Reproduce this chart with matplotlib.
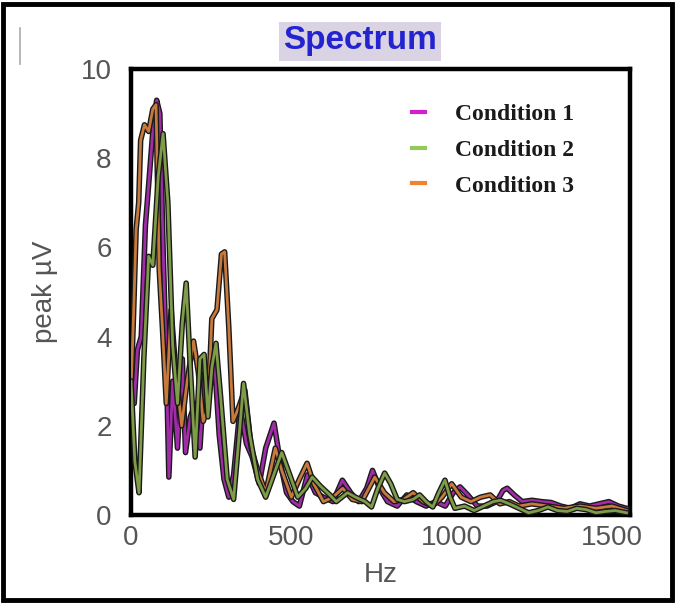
import matplotlib
matplotlib.use("Agg")
import matplotlib.pyplot as plt
import matplotlib.patheffects as pe
from matplotlib.lines import Line2D
from matplotlib.patches import Rectangle

# ---- data ----
hz_c1 = [0, 10, 20, 32, 45, 55, 68, 80, 90, 100, 110, 118, 130, 145, 160, 170, 185, 200, 215, 230,
         245, 260, 275, 290, 305, 320, 340, 360, 378, 400, 420, 446, 465, 485, 505, 525, 550, 575,
         600, 630, 659, 685, 710, 735, 753, 775, 800, 830, 860, 890, 920, 950, 980, 1005, 1026,
         1050, 1080, 1110, 1140, 1160, 1173, 1195, 1220, 1250, 1280, 1310, 1340, 1370, 1400,
         1430, 1460, 1490, 1520, 1545]
val_c1 = [3.6, 2.5, 3.7, 4.0, 6.5, 7.4, 8.6, 9.3, 9.0, 6.0, 3.5, 0.85, 3.0, 1.5, 3.5, 1.4, 2.2, 2.5,
          1.5, 3.2, 2.8, 3.5, 1.8, 0.8, 0.4, 0.9, 2.4, 1.6, 1.3, 0.7, 1.5, 2.06, 1.2, 0.5, 0.3, 0.2,
          0.9, 0.5, 0.4, 0.3, 0.78, 0.5, 0.3, 0.6, 1.0, 0.6, 0.3, 0.2, 0.45, 0.3, 0.2, 0.3, 0.2,
          0.5, 0.63, 0.45, 0.2, 0.2, 0.3, 0.55, 0.6, 0.45, 0.3, 0.33, 0.3, 0.28, 0.2, 0.15, 0.25,
          0.2, 0.25, 0.3, 0.2, 0.15]

hz_c2 = [0, 12, 25, 40, 55, 68, 85, 100, 115, 130, 145, 160, 172, 185, 200, 215, 228, 240, 252,
         265, 280, 300, 320, 335, 351, 370, 395, 420, 445, 470, 495, 520, 545, 565, 590, 620, 640,
         675, 700, 730, 750, 770, 791, 810, 830, 853, 880, 900, 920, 941, 960, 979, 995, 1010,
         1040, 1070, 1100, 1130, 1152, 1180, 1210, 1240, 1270, 1300, 1330, 1360, 1390, 1420,
         1450, 1480, 1510, 1545]
val_c2 = [3.0, 1.2, 0.5, 3.5, 5.8, 5.6, 7.6, 8.55, 7.0, 3.8, 2.5, 4.3, 5.2, 3.3, 1.3, 3.5, 3.6,
          2.2, 3.3, 3.85, 2.6, 0.8, 0.35, 1.6, 2.95, 1.8, 0.8, 0.4, 0.9, 1.4, 0.9, 0.4, 0.6, 0.85,
          0.65, 0.45, 0.3, 0.5, 0.4, 0.3, 0.18, 0.6, 0.94, 0.7, 0.35, 0.3, 0.35, 0.45, 0.3, 0.18,
          0.5, 0.78, 0.4, 0.15, 0.2, 0.1, 0.2, 0.3, 0.33, 0.25, 0.15, 0.05, 0.1, 0.18, 0.1, 0.08,
          0.15, 0.12, 0.05, 0.08, 0.1, 0.05]

hz_c3 = [0, 8, 16, 24, 30, 42, 55, 68, 78, 88, 98, 110, 125, 140, 158, 175, 195, 210, 225, 240,
         252, 268, 282, 292, 305, 318, 335, 355, 375, 395, 420, 450, 470, 500, 525, 549, 570, 600,
         630, 660, 690, 720, 760, 790, 820, 850, 880, 910, 940, 970, 1000, 1030, 1060, 1090,
         1120, 1150, 1180, 1210, 1250, 1300, 1350, 1400, 1450, 1500, 1545]
val_c3 = [2.8, 4.5, 6.4, 7.0, 8.4, 8.75, 8.6, 9.1, 9.2, 5.5, 4.2, 2.5, 4.6, 3.2, 2.0, 3.0, 3.9,
          3.2, 2.1, 2.4, 4.4, 4.6, 5.85, 5.9, 4.2, 2.1, 2.4, 2.8, 1.5, 1.0, 0.5, 1.5, 1.0, 0.4,
          0.8, 1.16, 0.7, 0.3, 0.4, 0.6, 0.35, 0.3, 0.85, 0.5, 0.3, 0.35, 0.5, 0.3, 0.2, 0.4, 0.7,
          0.4, 0.3, 0.4, 0.45, 0.25, 0.3, 0.2, 0.25, 0.2, 0.15, 0.2, 0.15, 0.2, 0.1]

labels = ["Condition 1", "Condition 2", "Condition 3"]
x_ticks = [0, 500, 1000, 1500]
y_ticks = [0, 2, 4, 6, 8, 10]

# ---- figure ----
fig = plt.figure(figsize=(6.76, 6.03), dpi=100)
W, H = 676, 603
ax = fig.add_axes([131 / W, 1 - 515 / H, (630 - 131) / W, (515 - 69) / H])

outline = [pe.Stroke(linewidth=4.0, foreground="#1a1a1a"), pe.Normal()]
ax.plot(hz_c1, val_c1, color="#a02ca8", lw=2.0, path_effects=outline, zorder=3)
ax.plot(hz_c3, val_c3, color="#c87a3c", lw=2.0, path_effects=outline, zorder=4)
ax.plot(hz_c2, val_c2, color="#7f9c48", lw=2.0, path_effects=outline, zorder=5)

ax.set_xlim(0, 1556)
ax.set_ylim(0, 10)
ax.set_xticks(x_ticks)
ax.set_yticks(y_ticks)
ax.tick_params(axis="x", length=0, labelsize=20, labelcolor="#555555", pad=7)
ax.tick_params(axis="y", length=0, labelsize=20, labelcolor="#555555", pad=14)
for lab in ax.get_xticklabels() + ax.get_yticklabels():
    lab.set_family("Liberation Sans")
for s in ax.spines.values():
    s.set_linewidth(3.2)
    s.set_color("black")

ax.set_xlabel("Hz", fontsize=20, color="#555555", family="Liberation Sans", labelpad=8)
ax.set_ylabel("peak µV", fontsize=20, color="#555555", family="Liberation Sans", labelpad=16)

# title with shaded box
fig.text(360 / W, 1 - 41 / H, "Spectrum", ha="center", va="center", fontsize=24,
         fontweight="bold", color="#2323d0", family="Liberation Sans",
         bbox=dict(boxstyle="square,pad=0.12", facecolor="#d9d3e3", edgecolor="none"))

# legend
handles = [Line2D([], [], color="#d41fcf", lw=3),
           Line2D([], [], color="#92c957", lw=3),
           Line2D([], [], color="#f08232", lw=3)]
leg = ax.legend(handles, labels, loc="upper left", bbox_to_anchor=(0.52, 0.97),
                frameon=False, handlelength=0.55, handletextpad=1.3, labelspacing=0.6,
                prop=dict(family="Liberation Serif", weight="bold", size=17))
for t in leg.get_texts():
    t.set_color("#1a1a1a")

# outer frame and small artifact line
fig.patches.append(Rectangle((3 / W, 3 / H), (W - 7) / W, (H - 7) / H, transform=fig.transFigure,
                             fill=False, edgecolor="black", linewidth=3.5))
fig.add_artist(Line2D([20 / W, 20 / W], [1 - 28 / H, 1 - 64 / H], color="#aaaaaa", lw=1.2))

fig.savefig("out.png", dpi=100)
